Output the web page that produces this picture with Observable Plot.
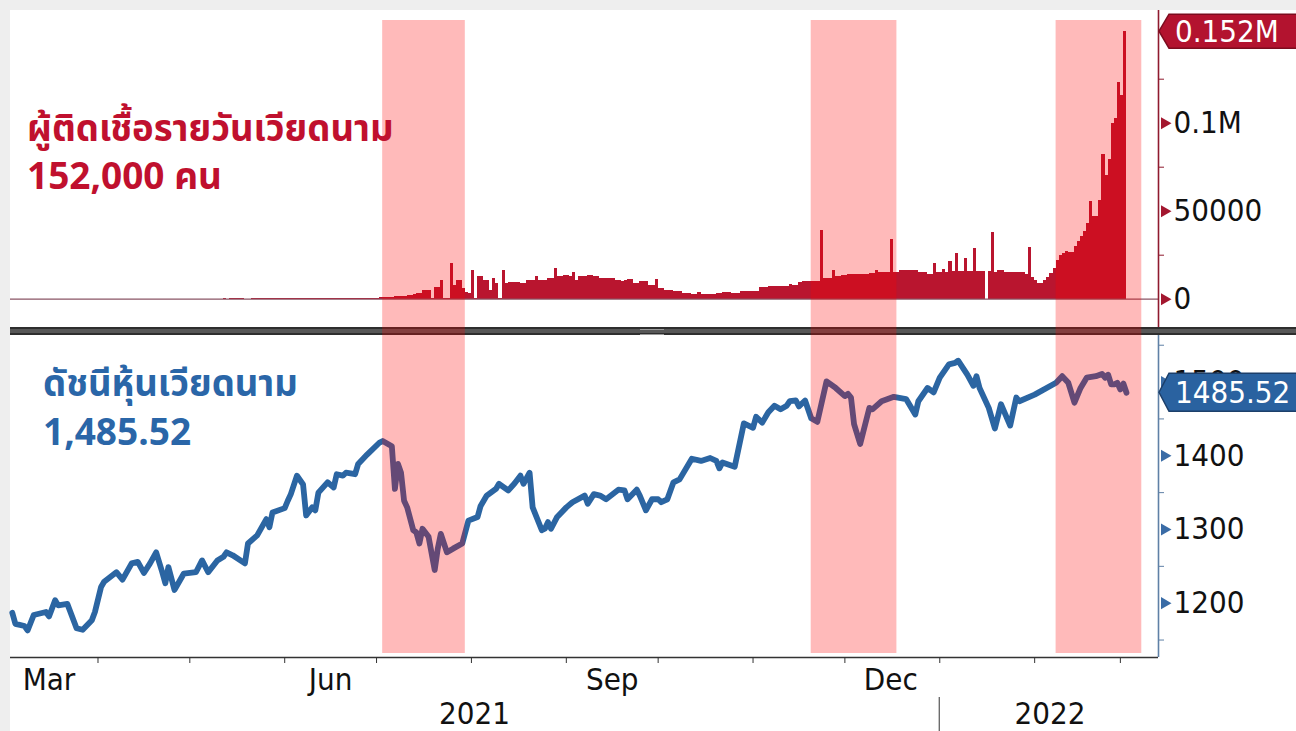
<!DOCTYPE html>
<html>
<head>
<meta charset="utf-8">
<script src="https://cdn.jsdelivr.net/npm/d3@7"></script>
<script src="https://cdn.jsdelivr.net/npm/@observablehq/plot@0.6"></script>
<style>
  html, body { margin: 0; padding: 0; background: #eeeeee; }
  #wrap { position: relative; width: 1296px; height: 731px; overflow: hidden; }
  #paper { position: absolute; left: 10px; top: 10px; width: 1286px; height: 721px; background: #ffffff; }
  .layer { position: absolute; left: 0; }
  #divider { position: absolute; left: 10px; top: 327px; width: 1286px; height: 8px;
    background: linear-gradient(#2e2e2e 0, #2e2e2e 2px, #575757 2px, #575757 6px, #2e2e2e 6px); }
  #grip { position: absolute; left: 640px; top: 329px; width: 24px; height: 4px;
    border-top: 1px solid #9a9a9a; border-bottom: 1px solid #9a9a9a; }
  #titles { position: absolute; left: 0; top: 0; pointer-events: none; }
  #titles text { font-family: "Noto Sans Thai", "Noto Sans Thai UI", "Noto Sans", "Loma", "Garuda", sans-serif; font-weight: 700; }
</style>
</head>
<body>
<div id="wrap">
  <div id="paper"></div>
  <div id="top" class="layer" style="top:0px"></div>
  <div id="bottom" class="layer" style="top:335px"></div>
  <div id="divider"></div>
  <div id="grip"></div>
  <div id="bands" class="layer" style="top:0px; pointer-events:none"></div>
  <svg id="titles" width="1296" height="731">
    <text x="27" y="141" fill="#c0102e" font-size="36.5">ผู้ติดเชื้อรายวันเวียดนาม</text>
    <text x="27" y="189" fill="#c0102e" font-size="37">152,000 คน</text>
    <text x="43" y="396" fill="#2a66a8" font-size="36.5">ดัชนีหุ้นเวียดนาม</text>
    <text x="43" y="445" fill="#2a66a8" font-size="37">1,485.52</text>
  </svg>
</div>
<script>
// ---------------- DATA ----------------
// Daily new COVID-19 cases in Vietnam, by month
const casesMar21 = [6,1,2,5,4,2,6,0,3,1,8,3,0,2,1,3,9,4,2,5,0,2,3,11,6,2,5,3,4]; // from Mar 3
const casesApr21 = [2,3,1,4,8,3,6,2,5,1,0,4,2,3,7,2,5,1,3,4,6,2,8,3,5,2,4,9,15,20];
const casesMay21 = [12,30,40,60,70,100,45,60,50,80,95,120,80,150,140,120,185,200,110,90,150,170,200,250,200,180,270,300,200,210,180];
const casesJun21 = [180,200,150,210,270,180,150,220,250,300,190,220,260,350,290,400,260,210,280,330,380,350,290,400,360,380,380,300,300,400];
const casesJul21 = [380,760,760,760,760,900,1330,1330,1330,1500,2290,2290,2500,3240,3240,4760,5140,5140,600,6670,6670,10480,400,400,20000,8000,10480,10480,6100,4000,3200];
const casesAug21 = [16570,400,12760,12760,10860,10860,5140,11810,8950,400,16570,8950,9525,9525,9525,9525,8950,8950,10480,10480,10480,12760,10860,10860,10860,11810,11810,17530,12760,12760,13720];
const casesSep21 = [13720,12760,15050,10860,12760,13140,13140,13720,13720,12760,12760,11810,11810,11810,11810,11810,10860,10860,9900,10860,11240,11240,8950,8950,9900,9900,9900,8000,8000,11240];
const casesOct21 = [6100,6100,5140,5140,5140,4500,4500,4500,3500,3500,3500,2860,2860,3800,2860,2860,2860,2860,2480,3240,3240,3800,3800,3800,3240,3240,3240,4380,4380,4380,4380];
const casesNov21 = [4380,4380,6670,6670,6670,7240,7240,7240,7240,7240,7240,7240,8190,7620,7620,9525,10100,10100,10100,9900,9900,9900,39000,12000,12000,12000,16190,12760,12760,13720];
const casesDec21 = [13720,13900,13900,14290,14290,14290,14290,14290,14860,14860,16190,15240,15240,15240,15240,33700,15240,15240,16190,16190,16190,16190,16190,16190,15240,15240,15240,14290,14290,20000,15240];
const casesJan22 = [15240,17100,15240,21500,15800,25700,15800,15800,23400,15800,15800,28600,15800,15800,15800,0,15800,38100,15240,16190,16190,15240,15240,15240,15240,15240,15240,15240,14290,29500,12560];
const casesFeb22 = [10660,8750,8750,10660,12560,14460,17300,22070,24900,26000,26830,26260,26260,29690,32540,35400,38250,43000,55380,46800,46800,56300,82000,70000,79200,100100,102400,123300];
const casesMar22 = [115700,152000];
const caseMonths = [
  ["2021-03-03", casesMar21], ["2021-04-01", casesApr21], ["2021-05-01", casesMay21],
  ["2021-06-01", casesJun21], ["2021-07-01", casesJul21], ["2021-08-01", casesAug21],
  ["2021-09-01", casesSep21], ["2021-10-01", casesOct21], ["2021-11-01", casesNov21],
  ["2021-12-01", casesDec21], ["2022-01-01", casesJan22], ["2022-02-01", casesFeb22],
  ["2022-03-01", casesMar22]
];

// Vietnam stock index (VN-Index)
const stockDates = [
"2021-03-04","2021-03-05","2021-03-08","2021-03-09","2021-03-11","2021-03-13","2021-03-15","2021-03-16","2021-03-18","2021-03-19",
"2021-03-22","2021-03-25","2021-03-27","2021-03-30","2021-03-31","2021-04-02","2021-04-03","2021-04-07","2021-04-09","2021-04-12",
"2021-04-14","2021-04-16","2021-04-18","2021-04-20","2021-04-22","2021-04-23","2021-04-24","2021-04-26","2021-04-29","2021-05-03",
"2021-05-05","2021-05-07","2021-05-10","2021-05-12","2021-05-13","2021-05-15","2021-05-19","2021-05-20","2021-05-23","2021-05-26",
"2021-05-27","2021-05-28","2021-06-01","2021-06-02","2021-06-03","2021-06-05","2021-06-07","2021-06-08","2021-06-10","2021-06-11",
"2021-06-12","2021-06-15","2021-06-17","2021-06-18","2021-06-20","2021-06-21","2021-06-24","2021-06-25","2021-06-28","2021-07-02",
"2021-07-03","2021-07-06","2021-07-07","2021-07-08","2021-07-09","2021-07-10","2021-07-11","2021-07-13","2021-07-14","2021-07-15",
"2021-07-16","2021-07-18","2021-07-20","2021-07-21","2021-07-22","2021-07-24","2021-07-26","2021-07-29","2021-07-31","2021-08-03",
"2021-08-04","2021-08-06","2021-08-09","2021-08-10","2021-08-13","2021-08-15","2021-08-17","2021-08-18","2021-08-20","2021-08-21",
"2021-08-24","2021-08-25","2021-08-26","2021-08-27","2021-08-29","2021-09-01","2021-09-03","2021-09-07","2021-09-08","2021-09-10",
"2021-09-12","2021-09-14","2021-09-18","2021-09-20","2021-09-21","2021-09-24","2021-09-25","2021-09-27","2021-09-29","2021-10-01",
"2021-10-02","2021-10-04","2021-10-06","2021-10-08","2021-10-12","2021-10-15","2021-10-18","2021-10-20","2021-10-21","2021-10-22",
"2021-10-26","2021-10-29","2021-11-01","2021-11-02","2021-11-04","2021-11-06","2021-11-08","2021-11-10","2021-11-12","2021-11-13",
"2021-11-15","2021-11-16","2021-11-18","2021-11-20","2021-11-22","2021-11-25","2021-11-28","2021-12-01","2021-12-02","2021-12-03",
"2021-12-04","2021-12-06","2021-12-09","2021-12-10","2021-12-13","2021-12-15","2021-12-17","2021-12-21","2021-12-24","2021-12-25",
"2021-12-28","2021-12-30","2022-01-01","2022-01-04","2022-01-06","2022-01-07","2022-01-10","2022-01-12","2022-01-13","2022-01-14",
"2022-01-17","2022-01-19","2022-01-21","2022-01-24","2022-01-26","2022-01-27","2022-02-01","2022-02-08","2022-02-10","2022-02-12",
"2022-02-14","2022-02-16","2022-02-18","2022-02-21","2022-02-23","2022-02-24","2022-02-25","2022-02-26","2022-02-27","2022-02-28",
"2022-03-01","2022-03-02","2022-03-03"];
const stockValues = [
1187,1172,1169,1163,1184,1186,1188,1182,1204,1197,
1199,1166,1164,1177,1188,1222,1229,1242,1232,1254,
1256,1241,1254,1269,1242,1227,1249,1218,1240,1242,
1258,1242,1258,1263,1269,1265,1254,1281,1292,1314,
1303,1323,1329,1339,1348,1373,1361,1319,1330,1326,
1350,1364,1357,1375,1373,1377,1375,1389,1402,1418,
1420,1413,1355,1389,1377,1339,1330,1299,1296,1281,
1301,1290,1245,1274,1294,1269,1274,1281,1312,1317,
1332,1346,1355,1362,1353,1362,1373,1362,1377,1330,
1299,1301,1310,1301,1317,1330,1337,1346,1335,1348,
1346,1341,1354,1353,1341,1354,1346,1326,1341,1341,
1337,1341,1364,1368,1396,1393,1397,1393,1383,1391,
1385,1444,1438,1453,1445,1459,1468,1463,1468,1474,
1475,1467,1475,1451,1446,1501,1492,1481,1484,1479,
1443,1416,1465,1463,1474,1477,1480,1477,1456,1474,
1492,1486,1506,1524,1526,1529,1510,1495,1508,1492,
1465,1437,1470,1441,1479,1474,1483,1499,1508,1499,
1472,1492,1506,1508,1511,1506,1510,1497,1497,1499,
1490,1498,1485.52];

// Shaded periods
const bandStarts = ["2021-07-03", "2021-11-20", "2022-02-08"];
const bandEnds   = ["2021-07-30", "2021-12-18", "2022-03-08"];

// Axis ticks & labels
const caseTicks = [0, 50000, 100000];
const caseMinorTicks = [25000, 75000, 125000];
const stockTicks = [1200, 1300, 1400, 1500];
const stockMinorTicks = [1150, 1250, 1350, 1450, 1550];
const monthTicks = ["2021-04-01","2021-05-01","2021-06-01","2021-07-01","2021-08-01","2021-09-01",
                    "2021-10-01","2021-11-01","2021-12-01","2022-01-01","2022-02-01","2022-03-01"];
const monthLabelNames = ["Mar", "Jun", "Sep", "Dec"];
const monthLabelDates = ["2021-03-16", "2021-06-16", "2021-09-16", "2021-12-16"];
const yearLabelNames = ["2021", "2022"];
const yearLabelDates = ["2021-08-02", "2022-02-06"];
const yearBoundary = "2022-01-01";
const lastCases = 152000, lastCasesLabel = "0.152M";
const lastIndex = 1485.52, lastIndexLabel = "1485.52";

// ---------------- BUILD ----------------
const cases = [];
for (const [start, vals] of caseMonths) {
  const s = new Date(start);
  vals.forEach((v, i) => cases.push({date: d3.utcDay.offset(s, i), value: v}));
}
const stock = stockDates.map((d, i) => ({date: new Date(d), value: stockValues[i]}));
const bands = bandStarts.map((s, i) => ({start: new Date(s), end: new Date(bandEnds[i])}));
const monthLabels = monthLabelNames.map((n, i) => ({label: n, date: new Date(monthLabelDates[i])}));
const yearLabels = yearLabelNames.map((n, i) => ({label: n, date: new Date(yearLabelDates[i])}));

const W = 1296, ML = 10, MR = 138;
const xDomain = [new Date(Date.UTC(2021, 2, 3, 10)), new Date(Date.UTC(2022, 2, 13, 11))];
const caseDomain = [-16080, 164030];
const stockDomain = [1126.3, 1563.2];
const AX = '"DejaVu Sans Condensed", "DejaVu Sans", sans-serif';
const RED = "#b9152f", RED_DARK = "#8f1a2e", BLUE = "#2b65a2", BLUE_AXIS = "#5f80a6";
const fmtCases = d => d === 0 ? "0" : d >= 100000 ? (d / 1e6) + "M" : String(d);

const topPlot = Plot.plot({
  width: W, height: 327, marginLeft: ML, marginRight: MR, marginTop: 10, marginBottom: 0,
  style: {background: "transparent", fontFamily: AX, fontStretch: "condensed", overflow: "visible"},
  x: {type: "utc", domain: xDomain, axis: null, label: null},
  y: {domain: caseDomain, axis: null, label: null},
  marks: [
    Plot.rectY(cases, {x: "date", y: "value", interval: "day", fill: RED, inset: 0, clip: true, shapeRendering: "crispEdges"}),
    Plot.ruleY([0], {stroke: "#8a5565", strokeWidth: 1.3}),
    Plot.ruleX([xDomain[1]], {stroke: RED_DARK, strokeWidth: 1.6}),
    Plot.axisY(caseMinorTicks, {anchor: "right", tickSize: 5, tickFormat: () => "", label: null, stroke: RED_DARK}),
    Plot.dot(caseTicks, {y: d => d, frameAnchor: "right", dx: 6, symbol: "triangle", rotate: 90, r: 4.5, fill: "#a3172f", stroke: "none"}),
    Plot.text(caseTicks, {y: d => d, text: fmtCases, frameAnchor: "right", textAnchor: "start", dx: 15, fontSize: 31, fill: "#111", fontFamily: AX})
  ]
});
document.getElementById("top").appendChild(topPlot);

const bottomPlot = Plot.plot({
  width: W, height: 396, marginLeft: ML, marginRight: MR, marginTop: 0, marginBottom: 74,
  style: {background: "transparent", fontFamily: AX, fontStretch: "condensed", overflow: "visible"},
  x: {type: "utc", domain: xDomain, axis: null, label: null},
  y: {domain: stockDomain, axis: null, label: null},
  marks: [
    Plot.line(stock, {x: "date", y: "value", stroke: BLUE, strokeWidth: 5.8, strokeLinejoin: "round", strokeLinecap: "round"}),
    Plot.ruleY([stockDomain[0]], {stroke: "#333", strokeWidth: 1.6}),
    Plot.ruleX([xDomain[1]], {stroke: BLUE_AXIS, strokeWidth: 1.6}),
    Plot.axisX(monthTicks.map(d => new Date(d)), {anchor: "bottom", tickSize: 6, tickFormat: () => "", label: null, stroke: "#333"}),
    Plot.text(monthLabels, {x: "date", text: "label", frameAnchor: "bottom", dy: 32, fontSize: 31, fill: "#111", fontFamily: AX}),
    Plot.text(yearLabels, {x: "date", text: "label", frameAnchor: "bottom", dy: 66, fontSize: 31, fill: "#111", fontFamily: AX}),
    Plot.axisY(stockMinorTicks, {anchor: "right", tickSize: 5, tickFormat: () => "", label: null, stroke: BLUE_AXIS}),
    Plot.dot(stockTicks, {y: d => d, frameAnchor: "right", dx: 6, symbol: "triangle", rotate: 90, r: 4.5, fill: "#3a6ca6", stroke: "none"}),
    Plot.text(stockTicks, {y: d => d, text: d => String(d), frameAnchor: "right", textAnchor: "start", dx: 15, fontSize: 31, fill: "#111", fontFamily: AX})
  ]
});
document.getElementById("bottom").appendChild(bottomPlot);

// Year boundary separator & last-value tags, positioned through the plots' scales
{
  const xs = bottomPlot.scale("x");
  const bx = xs.apply(new Date(yearBoundary));
  d3.select(bottomPlot).append("line")
    .attr("x1", bx).attr("x2", bx).attr("y1", 362).attr("y2", 396)
    .attr("stroke", "#555").attr("stroke-width", 1.2);
}
function addTag(plot, value, label, fill, stroke, h) {
  const y = plot.scale("y").apply(value);
  const x0 = W - MR + 1;
  const svg = d3.select(plot);
  svg.append("path")
    .attr("d", `M${x0},${y} L${x0 + 10},${y - h / 2} L${W + 2},${y - h / 2} L${W + 2},${y + h / 2} L${x0 + 10},${y + h / 2} Z`)
    .attr("fill", fill).attr("stroke", stroke).attr("stroke-width", 1.5);
  svg.append("text")
    .attr("x", x0 + 16).attr("y", y).attr("dy", "0.36em")
    .attr("text-anchor", "start")
    .attr("fill", "#fff").attr("font-size", 31).attr("font-family", AX).style("font-stretch", "condensed")
    .text(label);
}
addTag(topPlot, lastCases, lastCasesLabel, "#b3132f", "#7d0c1f", 34);
addTag(bottomPlot, lastIndex, lastIndexLabel, "#2a62a0", "#1c3f6a", 38);

// Shaded periods overlay spanning both panels
const bandsPlot = Plot.plot({
  width: W, height: 731, marginLeft: ML, marginRight: MR, marginTop: 20, marginBottom: 78,
  style: {background: "transparent"},
  x: {type: "utc", domain: xDomain, axis: null},
  marks: [
    Plot.rect(bands, {x1: "start", x2: "end", fill: "#ff0000", fillOpacity: 0.27})
  ]
});
document.getElementById("bands").appendChild(bandsPlot);
</script>
</body>
</html>
